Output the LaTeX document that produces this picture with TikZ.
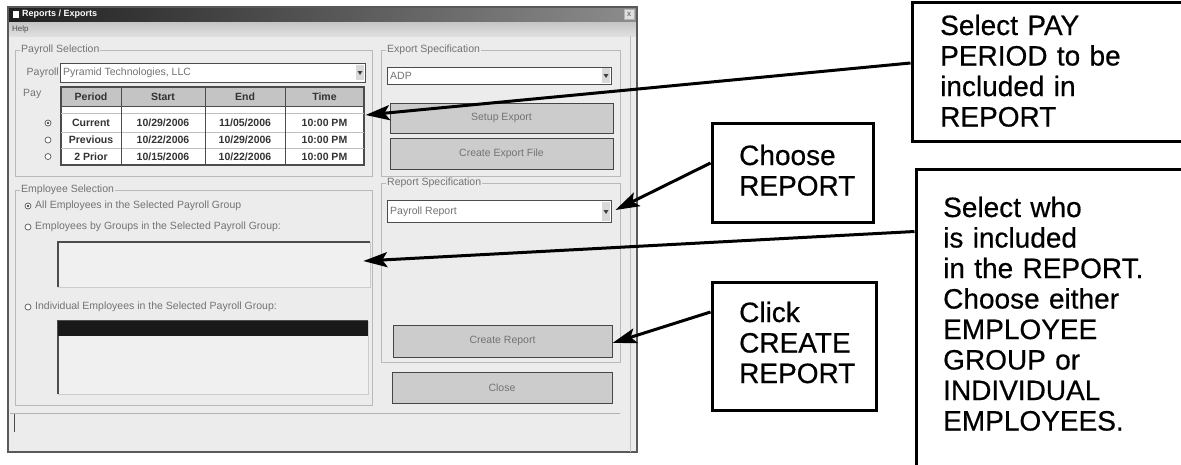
\documentclass[tikz,border=0pt]{standalone}
\usepackage{fontspec}
\setmainfont{Liberation Sans}
\newfontfamily\callfont{Liberation Sans}[FakeBold=0.5]
\usetikzlibrary{arrows.meta}
\definecolor{winbg}{RGB}{236,236,236}
\definecolor{btngray}{RGB}{204,204,204}
\definecolor{hdrgray}{RGB}{196,196,196}
\definecolor{grpline}{RGB}{185,185,185}
\definecolor{uitext}{RGB}{115,115,115}
\begin{document}
\begin{tikzpicture}[x=1pt,y=-1pt,
  callout/.style={draw=black, line width=3pt, rectangle, inner sep=0pt},
  calltext/.style={font=\callfont\fontsize{28}{30.5}\selectfont, align=left, anchor=base west, inner sep=0pt, text width=250pt},
  pointer/.style={line width=3pt, -{Stealth[length=24pt,width=15pt,inset=5pt]}},
  grp/.style={draw=grpline, line width=0.8pt},
  uilbl/.style={font=\fontsize{10.5}{11}\selectfont, text=uitext, inner sep=1pt, anchor=west},
  grplbl/.style={uilbl, fill=winbg},
  combo/.style={draw=gray!60!black, fill=white, line width=1pt, inner sep=0pt},
  btn/.style={draw=gray!55!black, fill=btngray, line width=1pt, inner sep=0pt, font=\fontsize{10.5}{11}\selectfont, text=uitext},
  tcell/.style={font=\bfseries\fontsize{10.5}{11}\selectfont, text=black!80, inner sep=0pt},
  radio/.style={draw=gray!70!black, fill=white, line width=0.7pt},
]
\clip (0,0) rectangle (1181,464);
\fill[white] (0,0) rectangle (1181,464);

% ---------- window ----------
\fill[winbg] (8,7) rectangle (637,452);
\shade[left color=black!88, right color=black!45] (8,7) rectangle (637,22);
\shade[top color=gray!45, bottom color=gray!25] (8,22) rectangle (637,36);
\draw[gray!70!black, line width=1.2pt] (8,7) rectangle (637,452);
\draw[gray!50, line width=0.8pt] (630,36) -- (630,452);
\fill[white] (13,11) rectangle (19,18);
\node[font=\bfseries\fontsize{9}{10}\selectfont, text=white, anchor=west, inner sep=0pt] (title) at (22,14.5) {Reports / Exports};
\node[draw=gray!60, fill=gray!25, font=\fontsize{8}{9}\selectfont, text=black!70, inner sep=1pt, minimum width=10pt, minimum height=10pt] (closex) at (629,14.5) {x};
\node[uilbl, text=black!70, font=\fontsize{8}{9}\selectfont] (help) at (11,29.5) {Help};

% ---------- payroll selection ----------
\draw[grp] (15,50) rectangle (372,176);
\node[grplbl] (gps) at (20,50) {Payroll Selection};
\node[uilbl, anchor=east] (payrolllbl) at (60,73) {Payroll};
\node[combo, minimum width=305pt, minimum height=19pt] (pcombo) at (212.5,72.5) {};
\node[uilbl] (pcombotxt) at (62,72.5) {Pyramid Technologies, LLC};
\fill[gray!30] (356,65) rectangle (364,80);
\fill[gray!50!black] (357.5,71) -- (362.5,71) -- (360,75) -- cycle;
\node[uilbl] (paylbl) at (22,94) {Pay};

\node[draw=gray!60!black, fill=white, line width=1.2pt, minimum width=303pt, minimum height=78pt, inner sep=0pt] (table) at (212.5,126) {};
\fill[hdrgray] (61,87) rectangle (364,106);
\draw[gray!60!black, line width=1.2pt] (61,87) rectangle (364,165);
\draw[gray!60!black, line width=1pt] (61,106) -- (364,106);
\draw[gray!50, line width=0.6pt] (61,113) -- (364,113);
\draw[gray!50, line width=0.6pt] (61,132) -- (364,132);
\draw[gray!50, line width=0.6pt] (61,148) -- (364,148);
\foreach \cx in {121,205,285} {\draw[gray!60!black, line width=1pt] (\cx,87) -- (\cx,165);}
\node[tcell] (h1) at (91,96.5) {Period};
\node[tcell] (h2) at (163,96.5) {Start};
\node[tcell] (h3) at (245,96.5) {End};
\node[tcell] (h4) at (324.5,96.5) {Time};
\node[tcell] (r11) at (91,123) {Current};
\node[tcell] (r12) at (163,123) {10/29/2006};
\node[tcell] (r13) at (245,123) {11/05/2006};
\node[tcell] (r14) at (324.5,123) {10:00 PM};
\node[tcell] (r21) at (91,140) {Previous};
\node[tcell] (r22) at (163,140) {10/22/2006};
\node[tcell] (r23) at (245,140) {10/29/2006};
\node[tcell] (r24) at (324.5,140) {10:00 PM};
\node[tcell] (r31) at (91,156.5) {2 Prior};
\node[tcell] (r32) at (163,156.5) {10/15/2006};
\node[tcell] (r33) at (245,156.5) {10/22/2006};
\node[tcell] (r34) at (324.5,156.5) {10:00 PM};
\draw[radio] (48,123) circle (3pt);
\fill[black!70] (48,123) circle (1.4pt);
\draw[radio] (48,140) circle (3pt);
\draw[radio] (48,156.5) circle (3pt);

% ---------- employee selection ----------
\draw[grp] (15,190) rectangle (372,405);
\node[grplbl] (ges) at (20,190) {Employee Selection};
\draw[radio] (28,206) circle (3pt);
\fill[black!70] (28,206) circle (1.4pt);
\node[uilbl] (allemp) at (34,206) {All Employees in the Selected Payroll Group};
\draw[radio] (28,227) circle (3pt);
\node[uilbl] (grpemp) at (34,227) {Employees by Groups in the Selected Payroll Group:};
\node[draw=gray!40, fill=gray!12, line width=0.6pt, minimum width=312pt, minimum height=45pt, inner sep=0pt] (list1) at (214,264.5) {};
\draw[gray!60!black, line width=1.2pt] (58,287) -- (58,242) -- (370,242);
\draw[radio] (28,307) circle (3pt);
\node[uilbl] (indemp) at (34,307) {Individual Employees in the Selected Payroll Group:};
\node[draw=gray!40, fill=gray!12, line width=0.6pt, minimum width=310pt, minimum height=73pt, inner sep=0pt] (list2) at (213,357.5) {};
\draw[gray!60!black, line width=1.2pt] (58,394) -- (58,321) -- (368,321);
\fill[black!90] (58,321) rectangle (368,336);

% ---------- export specification ----------
\draw[grp] (381,50) rectangle (620,176);
\node[grplbl] (ges2) at (386,50) {Export Specification};
\node[combo, minimum width=224pt, minimum height=17pt] (ecombo) at (499,75.5) {};
\node[uilbl] (adp) at (389,75.5) {ADP};
\fill[gray!30] (602,68) rectangle (610,83);
\fill[gray!50!black] (603.5,74) -- (608.5,74) -- (606,78) -- cycle;
\node[btn, minimum width=223pt, minimum height=30pt] (setup) at (501.5,118) {Setup Export};
\node[btn, minimum width=223pt, minimum height=31pt] (cexp) at (501.5,154) {Create Export File};

% ---------- report specification ----------
\draw[grp] (381,183) rectangle (620,362);
\node[grplbl] (grs) at (386,183) {Report Specification};
\node[combo, minimum width=224pt, minimum height=22pt] (rcombo) at (499,211.5) {};
\node[uilbl] (prep) at (389,211.5) {Payroll Report};
\fill[gray!30] (602,202) rectangle (610,221);
\fill[gray!50!black] (603.5,210) -- (608.5,210) -- (606,214) -- cycle;
\node[btn, minimum width=219pt, minimum height=32pt] (crbtn) at (502.5,341) {Create Report};
\node[btn, minimum width=220pt, minimum height=31pt] (closebtn) at (502,387.5) {Close};

% ---------- status bar ----------
\draw[gray!60, line width=1pt] (10,413) -- (620,413);
\draw[gray!60!black, line width=1pt] (14,414) -- (14,432);

% ---------- callouts ----------
\node[callout, minimum width=290pt, minimum height=139pt] (box1) at (1057,71.5) {};
\node[calltext] (t1) at (940,35) {Select PAY\\PERIOD to be\\included in\\REPORT};
\node[callout, minimum width=161pt, minimum height=99pt] (box2) at (792.5,172.5) {};
\node[calltext] (t2) at (739,165) {Choose\\REPORT};
\node[callout, minimum width=300pt, minimum height=320pt] (box3) at (1066,329) {};
\node[calltext] (t3) at (943,217) {Select who\\is included\\in the REPORT.\\Choose either\\EMPLOYEE\\GROUP or\\INDIVIDUAL\\EMPLOYEES.};
\node[callout, minimum width=164pt, minimum height=128pt] (box4) at (794,346) {};
\node[calltext] (t4) at (739,322) {Click\\CREATE\\REPORT};

% ---------- pointers ----------
\draw[pointer] ([yshift=8.5pt]box1.west) -- ([xshift=1pt,yshift=11pt]table.east);
\draw[pointer] ([yshift=9.5pt]box2.west) -- ([xshift=4pt,yshift=1.5pt]rcombo.east);
\draw[pointer] ([yshift=-64pt]box3.north west) -- ([xshift=-7pt,yshift=3.5pt]list1.east);
\draw[pointer] ([yshift=34pt]box4.west) -- ([yshift=-2pt]crbtn.east);
\end{tikzpicture}
\end{document}
